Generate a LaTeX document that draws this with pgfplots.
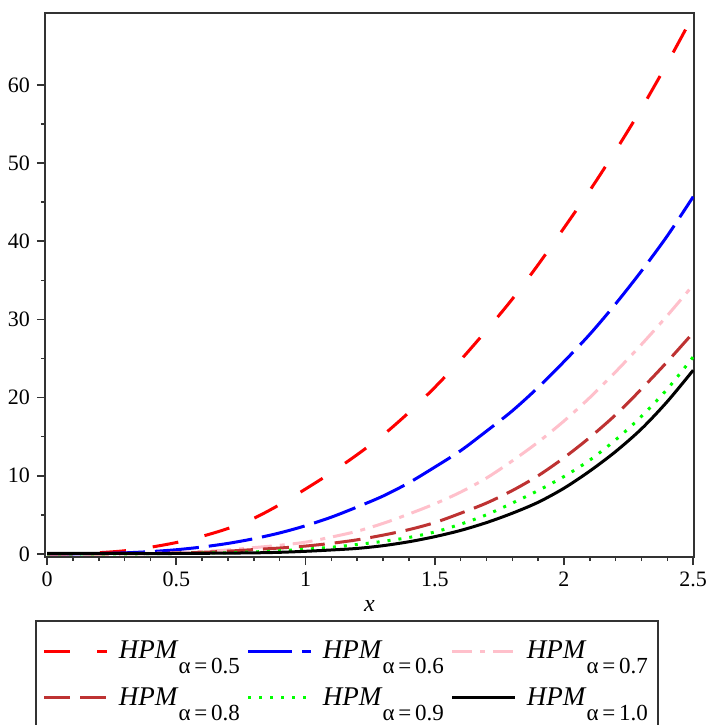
\documentclass[border=0pt]{standalone}
\usepackage{fontspec}
\setmainfont{Liberation Serif}
\usepackage{pgfplots}
\pgfplotsset{compat=1.18}
\usetikzlibrary{calc}

\definecolor{hpmred}{RGB}{255,0,0}
\definecolor{hpmblue}{RGB}{0,0,255}
\definecolor{hpmpink}{RGB}{255,192,203}
\definecolor{hpmbrown}{RGB}{190,50,50}
\definecolor{hpmgreen}{RGB}{0,255,0}

% legend text: HPM with a lowered alpha subscript
\newcommand{\hpm}[1]{\makebox[62pt][l]{\textit{HPM}\raisebox{-7.5pt}{\fontsize{11.5}{12}\selectfont α\,=\,#1}}}

\begin{document}
\begin{tikzpicture}
\begin{axis}[
  name=ax,
  scale only axis, width=324.5pt, height=272pt,
  xmin=-0.008, xmax=2.503, ymin=-0.4, ymax=69.2,
  xtick={0,0.5,1,1.5,2,2.5}, minor x tick num=4,
  ytick={0,10,20,30,40,50,60}, minor y tick num=1,
  xtick pos=left, ytick pos=left, tick align=outside,
  major tick length=4pt, minor tick length=2pt,
  axis line style={line width=0.8pt, black!80},
  every tick/.style={line width=0.8pt, black!80},
  tick label style={font=\fontsize{11}{13}\selectfont},
  /pgf/number format/assume math mode=true,
  xlabel={\textit{x}}, xlabel style={font=\fontsize{12}{14}\selectfont, yshift=0pt},
  legend columns=3,
  legend image code/.code={\draw[#1] (0pt,0pt) -- (31.5pt,0pt);},
  legend style={at={(-0.0154,-0.1157)}, anchor=north west,
    draw=black!80, line width=0.8pt, font=\fontsize{13.5}{15}\selectfont,
    inner xsep=3.5pt, inner ysep=10pt, row sep=13pt, column sep=0pt,
    cells={anchor=west}, nodes={inner sep=0pt},
    /tikz/every odd column/.append style={column sep=5pt},
    /tikz/every even column/.append style={column sep=2pt}},
]
\addplot[hpmred, line width=1.5pt, dash pattern=on 13pt off 13.5pt, smooth] coordinates {
 (0,0) (0.1,0.03) (0.2,0.15) (0.3,0.4) (0.4,0.85) (0.5,1.45) (0.6,2.25) (0.7,3.25)
 (0.8,4.55) (0.9,6.3) (1.0,8.3) (1.1,10.4) (1.2,12.7) (1.3,15.2) (1.4,18.1) (1.5,21.3)
 (1.6,24.8) (1.7,28.6) (1.8,32.6) (1.9,37.0) (2.0,41.7) (2.1,46.5) (2.2,51.6) (2.3,57.0)
 (2.4,62.8) (2.5,68.9)};
\addplot[hpmblue, line width=1.5pt, dash pattern=on 22pt off 5pt, smooth] coordinates {
 (0,0) (0.1,0.01) (0.2,0.04) (0.3,0.13) (0.4,0.29) (0.5,0.53) (0.6,0.88) (0.7,1.34)
 (0.8,1.94) (0.9,2.68) (1.0,3.6) (1.1,4.7) (1.2,6.0) (1.3,7.4) (1.4,9.1) (1.5,11.1)
 (1.6,13.2) (1.7,15.7) (1.8,18.3) (1.9,21.3) (2.0,24.6) (2.1,28.1) (2.2,32.0) (2.3,36.2)
 (2.4,40.7) (2.5,45.7)};
\addplot[hpmpink, line width=1.5pt, dash pattern=on 10pt off 4pt on 2.5pt off 4pt, smooth] coordinates {
 (0,0) (0.2,0.01) (0.3,0.03) (0.4,0.07) (0.5,0.15) (0.6,0.3) (0.7,0.5) (0.8,0.8)
 (0.9,1.1) (1.0,1.5) (1.1,2.15) (1.2,2.9) (1.3,3.9) (1.4,5.1) (1.5,6.4) (1.6,7.9)
 (1.7,9.7) (1.8,11.9) (1.9,14.3) (2.0,17.0) (2.1,20.0) (2.2,23.3) (2.3,26.8) (2.4,30.5)
 (2.5,34.4)};
\addplot[hpmbrown, line width=1.5pt, dash pattern=on 13pt off 5pt, smooth] coordinates {
 (0,0) (0.2,0.005) (0.3,0.02) (0.4,0.05) (0.5,0.1) (0.6,0.2) (0.7,0.35) (0.8,0.55)
 (0.9,0.75) (1.0,1.0) (1.1,1.35) (1.2,1.8) (1.3,2.4) (1.4,3.1) (1.5,4.0) (1.6,5.2)
 (1.7,6.5) (1.8,8.1) (1.9,10.0) (2.0,12.3) (2.1,14.9) (2.2,17.8) (2.3,21.1) (2.4,24.6)
 (2.5,28.3)};
\addplot[hpmgreen, line width=1.5pt, dash pattern=on 1.5pt off 4pt, smooth] coordinates {
 (0,0) (0.3,0.01) (0.5,0.05) (0.6,0.1) (0.7,0.15) (0.8,0.25) (0.9,0.4) (1.0,0.6)
 (1.1,0.85) (1.2,1.2) (1.3,1.6) (1.4,2.1) (1.5,2.8) (1.6,3.8) (1.7,5.0) (1.8,6.5)
 (1.9,8.1) (2.0,9.9) (2.1,12.0) (2.2,14.6) (2.3,17.6) (2.4,21.1) (2.5,25.2)};
\addplot[black, line width=1.5pt, smooth] coordinates {
 (0,0.05) (0.3,0.05) (0.5,0.05) (0.7,0.1) (0.8,0.13) (0.9,0.2) (1.0,0.33) (1.1,0.5)
 (1.2,0.7) (1.3,1.05) (1.4,1.55) (1.5,2.2) (1.6,3.0) (1.7,4.0) (1.8,5.2) (1.9,6.6)
 (2.0,8.4) (2.1,10.6) (2.2,13.1) (2.3,16.0) (2.4,19.5) (2.5,23.5)};
\legend{\hpm{0.5},\hpm{0.6},\hpm{0.7},\hpm{0.8},\hpm{0.9},\hpm{1.0}}
\end{axis}
\pgfresetboundingbox
\path[use as bounding box] ($(ax.south west)+(-22.5pt,-84pt)$) rectangle ($(ax.north east)+(7pt,6.5pt)$);
\end{tikzpicture}
\end{document}
